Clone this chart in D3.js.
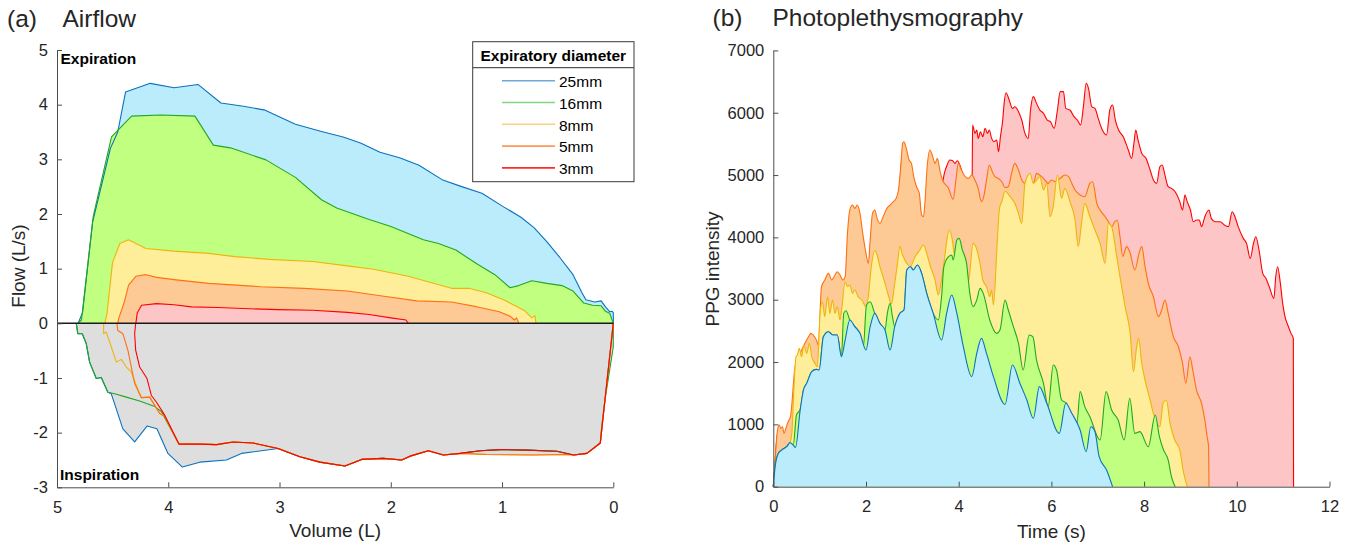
<!DOCTYPE html>
<html><head><meta charset="utf-8">
<script src="https://cdn.jsdelivr.net/npm/d3@7"></script>
<style>
html,body{margin:0;padding:0;background:#fff;}
svg{display:block;font-family:"Liberation Sans",Arial,Helvetica,sans-serif;}
</style></head><body>
<svg id="chart" width="1354" height="544"></svg>
<script>
// ---------- Panel (a): Airflow (flow-volume loops), [volume L, flow L/s] ----------
const diameters = ["25mm","16mm","8mm","5mm","3mm"];
const volTicks = [5,4,3,2,1,0];
const flowTicks = [-3,-2,-1,0,1,2,3,4,5];

const exp25 = [[4.81,0],[4.77,0.2],[4.68,1.85],[4.52,3.2],[4.454,3.50],[4.384,4.23],[4.162,4.39],[3.948,4.31],[3.733,4.37],[3.527,4.03],[3.324,3.97],[3.129,3.90],[2.857,3.64],[2.623,3.51],[2.428,3.41],[2.272,3.30],[2.097,3.13],[1.921,3.03],[1.746,2.89],[1.532,2.62],[1.376,2.51],[1.181,2.38],[0.986,2.13],[0.830,1.94],[0.713,1.75],[0.596,1.49],[0.479,1.20],[0.362,0.89],[0.284,0.57],[0.246,0.43],[0.168,0.39],[0.109,0.41],[0.07,0.30],[0.031,0.21],[0.01,0.22],[0.0,0.19],[0,0]];
const exp16 = [[4.813,0],[4.78,0.06],[4.675,1.95],[4.51,3.41],[4.33,3.79],[4.065,3.81],[3.76,3.79],[3.595,3.26],[3.441,3.21],[3.122,2.99],[2.857,2.67],[2.623,2.26],[2.486,2.11],[2.194,1.90],[1.999,1.77],[1.707,1.53],[1.571,1.46],[1.415,1.34],[1.22,1.08],[1.064,0.89],[0.928,0.65],[0.85,0.69],[0.733,0.78],[0.596,0.73],[0.46,0.69],[0.362,0.59],[0.265,0.37],[0.187,0.33],[0.109,0.32],[0.07,0.22],[0.031,0.18],[0,0]];
const exp8 = [[4.571,0],[4.552,0.16],[4.501,1.11],[4.435,1.46],[4.357,1.53],[4.201,1.37],[3.948,1.32],[3.636,1.28],[3.402,1.22],[3.09,1.17],[2.701,1.13],[2.389,1.05],[2.155,0.99],[1.843,0.86],[1.609,0.73],[1.454,0.64],[1.298,0.64],[1.142,0.56],[0.986,0.43],[0.85,0.29],[0.791,0.22],[0.733,0.10],[0.705,0.14],[0.694,0]];
const exp5 = [[4.454,0],[4.447,0.08],[4.396,0.38],[4.357,0.70],[4.291,0.86],[4.201,0.89],[4.104,0.84],[3.948,0.80],[3.636,0.73],[3.168,0.67],[2.779,0.64],[2.389,0.59],[2.077,0.50],[1.765,0.41],[1.454,0.39],[1.22,0.30],[1.025,0.21],[0.928,0.13],[0.889,0.06],[0.869,0.10],[0.85,0]];
const exp3 = [[4.291,0],[4.279,0.19],[4.24,0.33],[4.104,0.36],[3.948,0.34],[3.792,0.30],[3.558,0.29],[3.324,0.27],[3.012,0.25],[2.701,0.24],[2.389,0.20],[2.194,0.16],[1.999,0.10],[1.863,0.06],[1.843,0]];

const insp3 = [[4.293,0],[4.302,-0.19],[4.293,-0.49],[4.257,-0.80],[4.191,-1.01],[4.152,-1.32],[4.107,-1.44],[4.032,-1.68],[3.904,-2.21],[3.717,-2.21],[3.567,-2.22],[3.418,-2.17],[3.238,-2.19],[3.013,-2.29],[2.817,-2.44],[2.637,-2.54],[2.412,-2.61],[2.262,-2.49],[2.068,-2.47],[1.902,-2.50],[1.827,-2.43],[1.662,-2.33],[1.527,-2.41],[1.377,-2.38],[1.197,-2.33],[1.017,-2.31],[0.777,-2.32],[0.507,-2.34],[0.357,-2.41],[0.237,-2.38],[0.117,-2.19],[0,0]];
const insp5Head = [[4.462,0],[4.453,-0.13],[4.408,-0.19],[4.363,-0.49],[4.332,-0.80],[4.302,-1.10],[4.242,-1.36],[4.167,-1.35],[4.077,-1.65],[4.032,-1.70]];
const insp5Tail = [[1.137,-2.40],[0.717,-2.41],[0.417,-2.40]];
const insp8Head = [[4.581,0],[4.581,-0.19],[4.557,-0.16],[4.512,-0.43],[4.467,-0.71],[4.422,-0.66],[4.377,-0.80],[4.332,-0.89],[4.31,-1.02]];
const insp16Head = [[4.827,0],[4.813,-0.19],[4.773,-0.19],[4.737,-0.37],[4.707,-0.71],[4.647,-1.01],[4.602,-0.99],[4.543,-1.26],[4.482,-1.29],[4.377,-1.35],[4.257,-1.42],[4.122,-1.52],[4.06,-1.62]];
const insp16Tail = [[0.117,-2.19],[0.105,-1.89],[0.075,-1.40],[0,-0.43],[0,0]];
const insp25Head = [[4.827,0],[4.813,-0.19],[4.773,-0.19],[4.737,-0.37],[4.707,-0.71],[4.647,-1.01],[4.602,-0.99],[4.543,-1.26],[4.512,-1.29],[4.408,-1.93],[4.302,-2.17],[4.191,-1.88],[4.102,-1.93],[4.003,-2.38],[3.873,-2.63],[3.717,-2.54],[3.477,-2.50],[3.342,-2.38],[3.013,-2.29]];

const insp5 = insp5Head.concat(insp3.filter(p => p[0] <= 3.904 && p[0] >= 1.377), insp5Tail, insp3.filter(p => p[0] <= 0.357));
const insp8 = insp8Head.concat(insp5.filter(p => p[0] <= 4.243 && p[1] < 0), [[0,0]]);
const insp16 = insp16Head.concat(insp3.filter(p => p[0] <= 3.904 && p[0] > 0.117), insp16Tail);
const insp25 = insp25Head.concat(insp3.filter(p => p[0] <= 2.817));

// ---------- Panel (b): PPG, [time s, intensity] ----------
const timeTicks = [0,2,4,6,8,10,12];
const ppgTicks = [0,1000,2000,3000,4000,5000,6000,7000];

const ppg25 = [[0,0],[0.04,321],[0.11,535],[0.18,588],[0.29,642],[0.36,706],[0.43,668],[0.48,631],[0.58,1230],[0.65,1551],[0.72,1658],[0.83,1845],[0.93,1882],[0.99,1872],[1.08,2407],[1.19,2487],[1.29,2433],[1.38,2433],[1.47,2086],[1.55,2353],[1.65,2674],[1.76,2567],[1.87,2460],[2.0,2193],[2.09,2567],[2.19,2781],[2.30,2621],[2.41,2514],[2.52,2193],[2.62,2567],[2.73,2781],[2.82,2834],[2.88,3476],[2.96,3530],[3.02,3476],[3.11,3556],[3.20,3423],[3.31,3102],[3.45,2781],[3.63,2353],[3.74,2781],[3.85,3075],[3.96,2781],[4.10,2246],[4.28,1765],[4.39,2139],[4.49,2380],[4.60,2139],[4.75,1765],[5.0,1320],[5.16,1952],[5.32,1660],[5.47,1390],[5.61,1097],[5.74,1605],[5.90,1338],[6.17,856],[6.31,1338],[6.44,1177],[6.62,910],[6.75,562],[6.85,963],[6.94,883],[7.03,482],[7.19,268],[7.32,0]];
const ppg16 = [[0,0],[0.04,321],[0.11,535],[0.18,588],[0.29,642],[0.36,706],[0.43,668],[0.50,1150],[0.58,1240],[0.65,1551],[0.72,1658],[0.83,1845],[0.93,1882],[0.99,1872],[1.08,2407],[1.19,2487],[1.29,2433],[1.38,2433],[1.47,2086],[1.52,2781],[1.57,2824],[1.65,2674],[1.76,2567],[1.87,2460],[1.94,2219],[2.01,2915],[2.09,2968],[2.19,2781],[2.30,2621],[2.41,2514],[2.46,2781],[2.52,2941],[2.57,2727],[2.62,2567],[2.73,2781],[2.82,2834],[2.88,3476],[2.96,3530],[3.02,3476],[3.11,3556],[3.20,3423],[3.31,3102],[3.45,2781],[3.56,2674],[3.63,3048],[3.68,3530],[3.78,3690],[3.85,3717],[3.88,3637],[3.96,3958],[4.01,3984],[4.08,3797],[4.17,3583],[4.24,3102],[4.31,2888],[4.39,2995],[4.46,3182],[4.53,3102],[4.67,2674],[4.82,2460],[4.89,2514],[5.0,2995],[5.07,2835],[5.18,2567],[5.29,2300],[5.39,1872],[5.52,2434],[5.60,2407],[5.68,2032],[5.83,1658],[5.93,1284],[6.04,1952],[6.11,1872],[6.22,1391],[6.33,1338],[6.44,1124],[6.55,1017],[6.62,1525],[6.72,1284],[6.83,1124],[7.05,749],[7.18,1525],[7.30,1231],[7.44,1070],[7.57,749],[7.69,1418],[7.80,856],[7.91,883],[8.09,642],[8.24,1150],[8.33,802],[8.42,588],[8.52,428],[8.59,161],[8.67,0]];
const ppg8 = [[0,0],[0.04,321],[0.11,535],[0.18,588],[0.29,642],[0.36,706],[0.40,856],[0.45,1658],[0.49,2086],[0.52,2112],[0.56,2219],[0.61,2086],[0.66,2273],[0.72,2139],[0.78,2300],[0.83,2086],[0.90,1979],[0.95,1925],[1.01,2781],[1.06,2968],[1.11,2727],[1.17,3048],[1.22,2781],[1.28,2995],[1.33,2781],[1.38,2888],[1.44,2674],[1.47,2808],[1.55,3289],[1.60,3209],[1.65,3236],[1.71,3102],[1.76,3155],[1.83,3048],[1.91,2995],[2.00,2888],[2.05,3048],[2.11,3503],[2.19,3786],[2.24,3717],[2.30,3530],[2.39,3316],[2.48,3075],[2.55,2931],[2.61,3209],[2.68,3583],[2.73,3851],[2.79,3717],[2.88,3583],[2.95,3530],[3.06,3690],[3.16,3797],[3.24,3877],[3.31,3744],[3.38,3556],[3.49,3316],[3.56,3075],[3.63,3316],[3.70,3690],[3.75,3984],[3.80,4118],[3.85,4011],[3.92,3690],[4.03,3744],[4.14,3423],[4.21,3289],[4.31,3904],[4.37,3851],[4.46,3583],[4.52,3316],[4.60,3209],[4.67,3048],[4.71,3155],[4.75,2915],[4.83,3904],[4.88,4466],[4.93,4573],[5.0,4740],[5.11,4653],[5.21,4546],[5.29,4386],[5.36,4225],[5.43,4867],[5.54,5027],[5.61,4867],[5.68,4920],[5.75,4974],[5.83,4760],[5.90,4867],[5.97,4332],[6.04,4492],[6.13,5000],[6.22,4626],[6.29,4787],[6.40,4573],[6.51,4279],[6.58,3851],[6.65,4225],[6.72,4546],[6.83,4332],[6.94,4118],[7.05,3904],[7.16,3583],[7.23,4225],[7.30,4172],[7.41,3690],[7.48,3369],[7.59,2888],[7.70,2460],[7.77,1845],[7.84,2246],[7.88,2380],[7.95,1979],[8.02,1711],[8.13,1391],[8.20,1177],[8.34,963],[8.41,1338],[8.48,1391],[8.56,1017],[8.66,749],[8.77,588],[8.84,268],[8.93,0]];
const ppg5 = [[0,0],[0.04,428],[0.09,909],[0.13,989],[0.16,936],[0.20,963],[0.23,856],[0.27,936],[0.32,1043],[0.37,1123],[0.47,1925],[0.58,2139],[0.68,2300],[0.76,2407],[0.81,2460],[0.86,2433],[0.93,2353],[0.97,2273],[1.04,3209],[1.11,3316],[1.19,3423],[1.26,3316],[1.31,3369],[1.38,3449],[1.44,3396],[1.50,3316],[1.55,3369],[1.60,4064],[1.65,4439],[1.71,4519],[1.76,4466],[1.81,4519],[1.87,4386],[1.93,4064],[2.00,3744],[2.05,3583],[2.09,3958],[2.14,4386],[2.19,4439],[2.24,4305],[2.30,4225],[2.37,4332],[2.45,4466],[2.52,4519],[2.59,4573],[2.65,4626],[2.70,4760],[2.75,5134],[2.79,5508],[2.82,5535],[2.86,5455],[2.93,5241],[2.98,5188],[3.03,4974],[3.09,4813],[3.15,4706],[3.20,4359],[3.24,4332],[3.27,4546],[3.32,5134],[3.38,5401],[3.44,5295],[3.49,5188],[3.54,5268],[3.60,5054],[3.65,4920],[3.78,4787],[3.88,4610],[3.94,4920],[3.99,5188],[4.06,5081],[4.14,4974],[4.21,4947],[4.28,5000],[4.35,4920],[4.42,4787],[4.49,4573],[4.54,4653],[4.60,4920],[4.66,5161],[4.71,5081],[4.78,4974],[4.85,4947],[4.93,4893],[5.0,4800],[5.07,4813],[5.14,5027],[5.21,5188],[5.29,5081],[5.36,4920],[5.43,4867],[5.50,4920],[5.61,4867],[5.68,5027],[5.79,4974],[5.86,4920],[5.93,4867],[6.00,4920],[6.08,4893],[6.19,4947],[6.29,5000],[6.37,4974],[6.44,4867],[6.51,4760],[6.62,4680],[6.72,4653],[6.83,4867],[6.89,4893],[6.98,4546],[7.05,4439],[7.16,4332],[7.23,4252],[7.30,4172],[7.37,4252],[7.42,4279],[7.48,4011],[7.54,3690],[7.62,3851],[7.69,3770],[7.80,3476],[7.90,3770],[7.95,3851],[8.02,3530],[8.09,3262],[8.20,3048],[8.31,2727],[8.38,2834],[8.45,2995],[8.52,2781],[8.63,2407],[8.74,2246],[8.83,1979],[8.90,1658],[8.99,2086],[9.05,1872],[9.13,1551],[9.24,1338],[9.31,1070],[9.36,802],[9.39,642],[9.40,0]];
const ppg3 = [[0,0],[0.03,300],[0.09,850],[0.2,800],[0.37,1050],[0.6,2000],[0.9,2200],[0.97,2200],[1.06,3100],[1.5,3250],[1.56,3300],[1.65,4300],[1.86,4200],[2.02,3550],[2.05,3450],[2.14,4250],[2.3,4150],[2.5,4400],[2.7,4600],[2.78,5300],[2.85,5350],[3.0,4900],[3.15,4600],[3.21,4250],[3.26,4250],[3.33,5000],[3.45,5200],[3.55,5150],[3.63,4850],[3.70,5054],[3.75,5161],[3.81,5241],[3.87,5230],[3.92,5188],[3.97,5230],[4.03,5150],[4.10,4990],[4.20,4900],[4.27,4960],[4.29,5000],[4.30,5802],[4.35,5669],[4.39,5722],[4.42,5588],[4.47,5695],[4.52,5615],[4.57,5749],[4.62,5669],[4.66,5722],[4.71,5588],[4.76,5535],[4.82,5562],[4.86,5375],[4.90,5615],[4.95,5883],[4.98,6150],[5.02,6321],[5.09,6204],[5.16,6070],[5.21,6097],[5.29,6017],[5.36,5883],[5.43,5669],[5.50,5588],[5.55,6044],[5.61,6258],[5.68,6150],[5.75,6044],[5.83,5990],[5.91,5883],[5.98,5856],[6.06,5749],[6.13,6044],[6.19,6338],[6.26,6338],[6.31,6070],[6.40,6044],[6.49,5937],[6.56,5883],[6.63,5803],[6.69,6097],[6.75,6472],[6.80,6391],[6.87,6097],[6.94,6070],[7.01,5910],[7.10,5722],[7.19,5642],[7.26,6044],[7.32,6124],[7.38,5883],[7.45,5722],[7.55,5615],[7.66,5401],[7.73,5268],[7.78,5508],[7.82,5722],[7.87,5562],[7.95,5348],[8.04,5268],[8.13,5081],[8.20,4920],[8.27,4867],[8.34,5134],[8.39,5161],[8.45,5000],[8.52,4813],[8.59,4787],[8.67,4733],[8.77,4573],[8.83,4439],[8.88,4680],[8.93,4573],[9.00,4439],[9.06,4252],[9.13,4279],[9.19,4279],[9.24,4172],[9.31,4332],[9.40,4439],[9.45,4305],[9.53,4252],[9.64,4252],[9.73,4198],[9.82,4172],[9.90,4412],[9.96,4332],[10.03,4172],[10.14,3984],[10.21,3904],[10.29,3663],[10.36,3904],[10.41,4011],[10.48,3797],[10.56,3423],[10.63,3342],[10.70,3209],[10.80,3021],[10.84,3369],[10.88,3530],[10.94,3262],[10.99,2941],[11.04,2727],[11.10,2594],[11.17,2460],[11.22,2380],[11.225,0]];

// ---------- styles ----------
const lineColors = ["#0a72c0","#22a722","#efb40a","#ff7012","#ff0000"];
const fillColors = ["#bbecfb","#c0ff80","#ffee99","#fdca96","#fdc5c5"];
const legendColors = ["#6ea7da","#7fd87f","#fcd07a","#fd9a55","#ff2a2a"];
const grayFill = "#dedede";
const FONT = "'Liberation Sans', Arial, Helvetica, sans-serif";
const TXT = "#262626";
const AX = "#4d4d4d";

const svg = d3.select("#chart");
svg.append("rect").attr("width",1354).attr("height",544).attr("fill","#fff");

function styleAxis(g){
  g.attr("font-family", FONT).attr("font-size", 16.5);
  g.select(".domain").attr("stroke", AX).attr("stroke-width", 1);
  g.selectAll(".tick line").attr("stroke", AX);
  g.selectAll(".tick text").attr("fill", TXT);
}

// ================= Panel (a) =================
const xA = d3.scaleLinear().domain([5,0]).range([57,613.3]);
const yA = d3.scaleLinear().domain([-3,5]).range([487.3,50]);
const lineA = d3.line().x(d => xA(d[0])).y(d => yA(d[1]));
const gA = svg.append("g");

const expSets = [exp25, exp16, exp8, exp5, exp3];
const inspSets = [insp25, insp16, insp8, insp5, insp3];

expSets.forEach((s,i) => gA.append("path").attr("d", lineA(s) + "Z").attr("fill", fillColors[i]));
inspSets.forEach(s => gA.append("path").attr("d", lineA(s) + "Z").attr("fill", grayFill));
inspSets.forEach((s,i) => gA.append("path").attr("d", lineA(s)).attr("fill","none").attr("stroke", lineColors[i]).attr("stroke-width", 1.1).attr("stroke-linejoin","round"));
expSets.forEach((s,i) => gA.append("path").attr("d", lineA(s)).attr("fill","none").attr("stroke", lineColors[i]).attr("stroke-width", 1.1).attr("stroke-linejoin","round"));

gA.append("line").attr("x1", xA(5)).attr("x2", xA(0)).attr("y1", yA(0)).attr("y2", yA(0))
  .attr("stroke", "#1a1a1a").attr("stroke-width", 1.4);

gA.append("g").attr("transform", `translate(${xA(5)},0)`)
  .call(d3.axisLeft(yA).tickValues(flowTicks).tickFormat(d => String(d)).tickSizeInner(-5).tickSizeOuter(0).tickPadding(9))
  .call(styleAxis);
gA.append("g").attr("transform", `translate(0,${yA(-3)})`)
  .call(d3.axisBottom(xA).tickValues(volTicks).tickFormat(d => String(d)).tickSizeInner(-5).tickSizeOuter(0).tickPadding(14))
  .call(styleAxis);

gA.append("text").attr("x", 60.5).attr("y", 64).attr("font-family", FONT).attr("font-weight","bold").attr("font-size", 15.5).attr("fill","#000").text("Expiration");
gA.append("text").attr("x", 60).attr("y", 480).attr("font-family", FONT).attr("font-weight","bold").attr("font-size", 15.5).attr("fill","#000").text("Inspiration");

svg.append("text").attr("x", 7).attr("y", 26.5).attr("font-family", FONT).attr("font-size", 24.5).attr("fill", TXT).text("(a)");
svg.append("text").attr("x", 62.5).attr("y", 26.5).attr("font-family", FONT).attr("font-size", 24.5).attr("fill", TXT).text("Airflow");
svg.append("text").attr("transform","translate(25,266) rotate(-90)").attr("text-anchor","middle").attr("font-family", FONT).attr("font-size", 19).attr("fill", TXT).text("Flow (L/s)");
svg.append("text").attr("x", (xA(5)+xA(0))/2).attr("y", 537).attr("text-anchor","middle").attr("font-family", FONT).attr("font-size", 19).attr("fill", TXT).text("Volume (L)");

// legend
const lg = svg.append("g");
lg.append("rect").attr("x", 472.7).attr("y", 41.7).attr("width", 161.3).attr("height", 140).attr("fill","#fff").attr("stroke","#3a3a3a").attr("stroke-width",1);
lg.append("line").attr("x1", 472.7).attr("x2", 634).attr("y1", 67.7).attr("y2", 67.7).attr("stroke","#555").attr("stroke-width",1.2);
lg.append("text").attr("x", 553.3).attr("y", 61).attr("text-anchor","middle").attr("font-family", FONT).attr("font-weight","bold").attr("font-size", 15.5).attr("fill","#000").text("Expiratory diameter");
diameters.forEach((d,i) => {
  const y = 80.7 + i*21.8;
  lg.append("line").attr("x1", 502).attr("x2", 555).attr("y1", y).attr("y2", y).attr("stroke", legendColors[i]).attr("stroke-width", 1.6);
  lg.append("text").attr("x", 559).attr("y", y + 6.2).attr("font-family", FONT).attr("font-size", 15.5).attr("fill","#000").text(d);
});

// ================= Panel (b) =================
const xB = d3.scaleLinear().domain([0,12]).range([773.3,1329.5]);
const yB = d3.scaleLinear().domain([0,7000]).range([486.7,50.4]);
const areaB = d3.area().curve(d3.curveMonotoneX).x(d => xB(d[0])).y0(yB(0)).y1(d => yB(d[1]));
const lineB = d3.line().curve(d3.curveMonotoneX).x(d => xB(d[0])).y(d => yB(d[1]));
const gB = svg.append("g");
const ppgSets = [ppg3, ppg5, ppg8, ppg16, ppg25];
const ppgIdx = [4,3,2,1,0];
ppgSets.forEach((s,k) => {
  const i = ppgIdx[k];
  gB.append("path").attr("d", areaB(s)).attr("fill", fillColors[i]);
  gB.append("path").attr("d", lineB(s)).attr("fill","none").attr("stroke", lineColors[i]).attr("stroke-width", 1.1).attr("stroke-linejoin","round");
});
gB.append("g").attr("transform", `translate(${xB(0)},0)`)
  .call(d3.axisLeft(yB).tickValues(ppgTicks).tickFormat(d => String(d)).tickSizeInner(-5).tickSizeOuter(0).tickPadding(9))
  .call(styleAxis);
gB.append("g").attr("transform", `translate(0,${yB(0)})`)
  .call(d3.axisBottom(xB).tickValues(timeTicks).tickFormat(d => String(d)).tickSizeInner(-5).tickSizeOuter(0).tickPadding(14))
  .call(styleAxis);

svg.append("text").attr("x", 712.5).attr("y", 26).attr("font-family", FONT).attr("font-size", 24.5).attr("fill", TXT).text("(b)");
svg.append("text").attr("x", 772.5).attr("y", 26).attr("font-family", FONT).attr("font-size", 24.5).attr("fill", TXT).text("Photoplethysmography");
svg.append("text").attr("transform","translate(719,269) rotate(-90)").attr("text-anchor","middle").attr("font-family", FONT).attr("font-size", 19).attr("fill", TXT).text("PPG intensity");
svg.append("text").attr("x", (xB(0)+xB(12))/2).attr("y", 537.5).attr("text-anchor","middle").attr("font-family", FONT).attr("font-size", 19).attr("fill", TXT).text("Time (s)");
</script>
</body></html>
